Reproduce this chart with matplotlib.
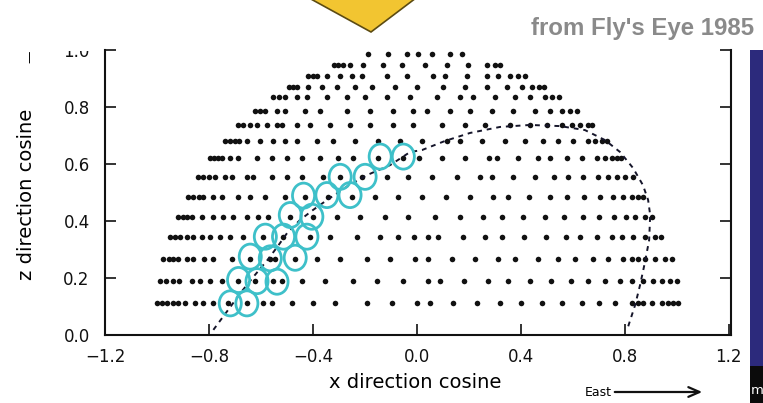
import matplotlib
matplotlib.use("Agg")
import matplotlib.pyplot as plt
from matplotlib.patches import Ellipse, Polygon, Rectangle

# elevation rows of phototube pointing directions (z = direction cosine)
row_z = [0.113, 0.189, 0.267, 0.343, 0.415, 0.485, 0.555, 0.620,
         0.682, 0.737, 0.787, 0.834, 0.871, 0.909, 0.947, 0.985]

# x direction cosines of the tubes in each row
row_x = [
    [-1.00, -0.98, -0.96, -0.94, -0.92, -0.891, -0.853, -0.822, -0.784, -0.726, -0.653, -0.591,
     -0.556, -0.480, -0.399, -0.314, -0.191, -0.095, 0.00, 0.051, 0.140, 0.232, 0.320, 0.401,
     0.482, 0.559, 0.636, 0.701, 0.763, 0.828, 0.851, 0.872, 0.905, 0.943, 0.967, 0.986, 1.005],
    [-0.99, -0.965, -0.94, -0.915, -0.864, -0.833, -0.795, -0.749, -0.687, -0.622, -0.553, -0.518,
     -0.441, -0.353, -0.245, -0.153, -0.053, 0.043, 0.090, 0.182, 0.274, 0.351, 0.436, 0.517,
     0.594, 0.659, 0.724, 0.782, 0.828, 0.870, 0.909, 0.943, 0.974, 1.0],
    [-0.975, -0.955, -0.937, -0.918, -0.884, -0.860, -0.818, -0.783, -0.710, -0.641, -0.564, -0.545,
     -0.468, -0.384, -0.295, -0.191, -0.103, -0.006, 0.043, 0.136, 0.224, 0.313, 0.378, 0.467,
     0.543, 0.609, 0.678, 0.736, 0.794, 0.828, 0.851, 0.878, 0.917, 0.955, 0.982],
    [-0.949, -0.930, -0.910, -0.884, -0.860, -0.826, -0.795, -0.757, -0.718, -0.668, -0.591, -0.514,
     -0.410, -0.333, -0.230, -0.141, -0.072, -0.01, 0.043, 0.082, 0.178, 0.263, 0.328, 0.413,
     0.497, 0.574, 0.628, 0.694, 0.751, 0.790, 0.832, 0.878, 0.917, 0.940],
    [-0.918, -0.899, -0.884, -0.864, -0.826, -0.783, -0.745, -0.707, -0.653, -0.610, -0.572, -0.487,
     -0.399, -0.307, -0.218, -0.122, -0.033, 0.070, 0.167, 0.255, 0.328, 0.409, 0.493, 0.567,
     0.640, 0.701, 0.759, 0.805, 0.840, 0.878, 0.905],
    [-0.880, -0.860, -0.840, -0.822, -0.783, -0.749, -0.687, -0.641, -0.583, -0.507, -0.430, -0.341,
     -0.249, -0.160, -0.072, 0.020, 0.113, 0.205, 0.293, 0.351, 0.432, 0.513, 0.578, 0.644,
     0.705, 0.755, 0.794, 0.828, 0.850, 0.872],
    [-0.841, -0.822, -0.800, -0.775, -0.737, -0.710, -0.653, -0.630, -0.556, -0.499, -0.441, -0.360,
     -0.295, -0.210, -0.114, -0.033, 0.059, 0.155, 0.243, 0.290, 0.370, 0.455, 0.528, 0.582,
     0.640, 0.697, 0.736, 0.771, 0.801, 0.832],
    [-0.795, -0.780, -0.764, -0.749, -0.718, -0.687, -0.614, -0.556, -0.499, -0.441, -0.372, -0.303,
     -0.245, -0.149, -0.053, 0.010, 0.097, 0.186, 0.276, 0.309, 0.390, 0.467, 0.513, 0.578,
     0.636, 0.694, 0.724, 0.751, 0.770, 0.785],
    [-0.737, -0.720, -0.700, -0.685, -0.653, -0.603, -0.553, -0.507, -0.460, -0.384, -0.322, -0.237,
     -0.149, -0.064, 0.020, 0.117, 0.167, 0.251, 0.340, 0.417, 0.486, 0.544, 0.602, 0.659,
     0.686, 0.713, 0.731],
    [-0.687, -0.668, -0.641, -0.614, -0.576, -0.537, -0.518, -0.460, -0.410, -0.333, -0.257, -0.180,
     -0.091, -0.014, 0.097, 0.186, 0.263, 0.359, 0.436, 0.501, 0.559, 0.598, 0.628, 0.659, 0.676],
    [-0.622, -0.603, -0.583, -0.537, -0.507, -0.430, -0.372, -0.268, -0.180, -0.091, -0.014, 0.040,
     0.128, 0.205, 0.290, 0.370, 0.455, 0.513, 0.559, 0.590, 0.615],
    [-0.552, -0.530, -0.507, -0.460, -0.422, -0.345, -0.268, -0.199, -0.114, -0.026, 0.078, 0.167,
     0.217, 0.301, 0.378, 0.436, 0.493, 0.521, 0.548],
    [-0.490, -0.475, -0.460, -0.418, -0.364, -0.307, -0.237, -0.172, -0.083, 0.0, 0.101, 0.186,
     0.270, 0.347, 0.405, 0.444, 0.470, 0.490],
    [-0.417, -0.400, -0.385, -0.345, -0.295, -0.249, -0.210, -0.114, -0.037, 0.063, 0.109, 0.193,
     0.270, 0.313, 0.359, 0.390, 0.415],
    [-0.320, -0.305, -0.284, -0.257, -0.207, -0.130, -0.057, 0.032, 0.117, 0.197, 0.270, 0.300, 0.320],
    [-0.187, -0.110, -0.037, 0.005, 0.059, 0.128, 0.172],
]

# tubes that fired (ringed)
hit_x = [-0.718, -0.654, -0.686, -0.615, -0.538, -0.641, -0.564, -0.468, -0.583, -0.513,
         -0.423, -0.487, -0.404, -0.436, -0.346, -0.257, -0.295, -0.199, -0.141, -0.052]
hit_z = [0.111, 0.111, 0.193, 0.189, 0.187, 0.275, 0.269, 0.271, 0.345, 0.345,
         0.345, 0.421, 0.415, 0.489, 0.491, 0.491, 0.555, 0.555, 0.626, 0.626]

# fitted shower-detector plane
track_x = [-0.783, -0.749, -0.718, -0.679, -0.629, -0.575, -0.537, -0.499, -0.449, -0.399, -0.345,
           -0.270, -0.192, -0.103, -0.026, 0.020, 0.109, 0.205, 0.320, 0.436, 0.551, 0.647, 0.724,
           0.782, 0.832, 0.870, 0.890, 0.898, 0.894, 0.878, 0.859, 0.840, 0.809]
track_z = [0.018, 0.060, 0.098, 0.147, 0.204, 0.263, 0.309, 0.358, 0.404, 0.439, 0.474,
           0.520, 0.561, 0.596, 0.642, 0.649, 0.681, 0.709, 0.730, 0.737, 0.733, 0.719, 0.684,
           0.642, 0.586, 0.526, 0.474, 0.421, 0.333, 0.256, 0.175, 0.105, 0.018]

x_ticks = [-1.2, -0.8, -0.4, 0.0, 0.4, 0.8, 1.2]
z_ticks = [0.0, 0.2, 0.4, 0.6, 0.8, 1.0]

W, H = 763, 403
fig = plt.figure(figsize=(W / 100, H / 100), dpi=100)
fig.patch.set_facecolor("white")

ax = fig.add_axes([105 / W, 68 / H, 626 / W, 285 / H])
ax.set_xlim(-1.2, 1.209)
ax.set_ylim(0, 1.0)

for z, xs in zip(row_z, row_x):
    ax.scatter(xs, [z] * len(xs), s=16, color="#111111", linewidths=0, zorder=3)

ax.plot(track_x, track_z, color="#15152a", lw=1.4, ls=(0, (2.5, 2.5)), zorder=4)

for hx, hz in zip(hit_x, hit_z):
    ax.add_patch(Ellipse((hx, hz), 0.085, 0.088, fill=False, ec="#3ec0c9", lw=2, zorder=5))

ax.set_xticks(x_ticks)
ax.set_xticklabels([f"{t:.1f}".replace("-", "\u2212") for t in x_ticks])
ax.set_yticks(z_ticks)
ax.set_yticklabels([f"{t:.1f}" for t in z_ticks])
ax.tick_params(direction="in", length=8, width=1.2, labelsize=12, colors="#111111",
               right=True, top=False)
ax.tick_params(axis="y", pad=11)
ax.tick_params(axis="x", pad=9)
ax.spines["top"].set_visible(False)
for s in ["left", "right", "bottom"]:
    ax.spines[s].set_linewidth(1.5)
    ax.spines[s].set_color("#111111")

fig.text(415 / W, 1 - 383 / H, "x direction cosine", ha="center", va="center", fontsize=14)
fig.text(27 / W, 1 - 194 / H, "z direction cosine", ha="center", va="center",
         fontsize=14, rotation=90)
fig.text(30 / W, 1 - 57 / H, "\u2014", ha="center", va="center", fontsize=9, rotation=90)

fig.text(598 / W, 1 - 392 / H, "East", ha="center", va="center", fontsize=9)
ax.annotate("", xy=(705 / W, 1 - 392 / H), xytext=(612 / W, 1 - 392 / H),
            xycoords="figure fraction", textcoords="figure fraction",
            arrowprops=dict(arrowstyle="->,head_length=0.8,head_width=0.35", lw=1.6, color="#111111"))

fig.text(531 / W, 1 - 35 / H, "from Fly's Eye 1985", ha="left", va="baseline",
         fontsize=17.3, fontweight="bold", color="#8a8a8a", family="Liberation Sans")

# slide decorations around the plot
fig.add_artist(Rectangle((50 / W, 1 - 51 / H), 50 / W, 51 / H, transform=fig.transFigure,
                         fc="white", ec="none", zorder=10))
fig.add_artist(Polygon([(298 / W, 1.02), (371 / W, 1 - 32 / H), (424 / W, 1.02)],
                       closed=True, transform=fig.transFigure, fc="#f2c531", ec="#5c4b12",
                       lw=1.2, zorder=10))
fig.add_artist(Rectangle((750 / W, 1 - 366 / H), 13 / W, 316 / H, transform=fig.transFigure,
                         fc="#2c2a7c", ec="none", zorder=10))
fig.add_artist(Rectangle((750 / W, 0), 13 / W, 37 / H, transform=fig.transFigure,
                         fc="#0b0b0b", ec="none", zorder=10))
fig.text(751 / W, 1 - 391 / H, "m", ha="left", va="center", fontsize=9.5, color="white", zorder=11)

fig.savefig("out.png", dpi=100, facecolor="white")
